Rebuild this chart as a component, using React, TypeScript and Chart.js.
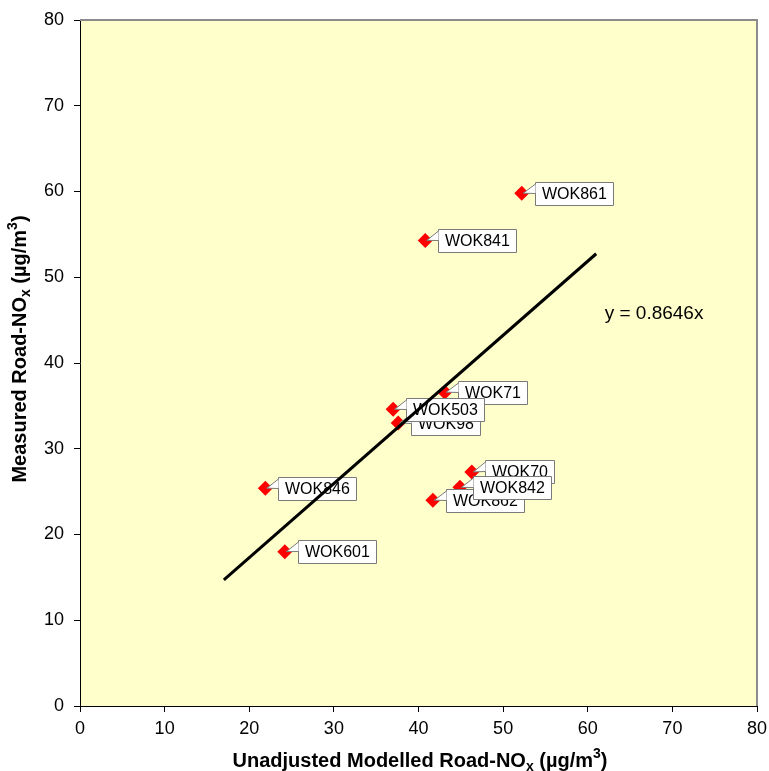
import React, { useEffect, useRef } from "react";
import { Chart, registerables } from "chart.js";

Chart.register(...registerables);

const siteNames = ["WOK861", "WOK841", "WOK71", "WOK98", "WOK503", "WOK70", "WOK862", "WOK842", "WOK846", "WOK601"];
const modelledX = [52.2, 40.8, 43.1, 37.6, 37.0, 46.3, 41.7, 44.9, 21.9, 24.2];
const measuredY = [59.8, 54.3, 36.6, 33.0, 34.6, 27.3, 24.0, 25.5, 25.4, 18.0];
const trendSlope = 0.8646;
const trendX = [17, 61];
const axisTicks = [0, 10, 20, 30, 40, 50, 60, 70, 80];
const equationText = "y = 0.8646x";

const FONT = "'Liberation Sans', Arial, sans-serif";

type Seg = { t: string; k: "n" | "sub" | "sup" };

function drawRich(ctx: CanvasRenderingContext2D, segs: Seg[], size: number) {
  const small = Math.round(size * 0.68);
  const fontFor = (k: string) => `bold ${k === "n" ? size : small}px ${FONT}`;
  let total = 0;
  for (const s of segs) {
    ctx.font = fontFor(s.k);
    total += ctx.measureText(s.t).width;
  }
  let x = -total / 2;
  ctx.textAlign = "left";
  ctx.textBaseline = "middle";
  for (const s of segs) {
    ctx.font = fontFor(s.k);
    const dy = s.k === "sub" ? size * 0.3 : s.k === "sup" ? -size * 0.33 : 0;
    ctx.fillText(s.t, x, dy);
    x += ctx.measureText(s.t).width;
  }
}

const decorPlugin = {
  id: "decor",
  beforeDraw(chart: any) {
    const { ctx, chartArea: a } = chart;
    ctx.save();
    ctx.fillStyle = "#FFFFCC";
    ctx.fillRect(a.left, a.top, a.right - a.left, a.bottom - a.top);
    ctx.restore();
  },
  afterDatasetDraw(chart: any, args: any) {
    if (args.index !== 1) return;
    const { ctx } = chart;
    const meta = chart.getDatasetMeta(1);
    ctx.save();
    ctx.font = `16px ${FONT}`;
    meta.data.forEach((pt: any, i: number) => {
      const px = pt.x;
      const py = pt.y;
      const label = siteNames[i];
      const tw = ctx.measureText(label).width;
      const left = Math.round(px + 13) + 0.5;
      const h = 23;
      const top = Math.round(py - h / 2) + 0.5;
      const w = Math.round(tw + 13);
      ctx.fillStyle = "#FFFFFF";
      ctx.strokeStyle = "#7A7A7A";
      ctx.lineWidth = 1;
      ctx.beginPath();
      ctx.rect(left, top, w, h);
      ctx.fill();
      ctx.stroke();
      // pointer
      ctx.beginPath();
      ctx.moveTo(left, top + 1.5);
      ctx.lineTo(px + 1.5, py);
      ctx.lineTo(left, top + 11);
      ctx.closePath();
      ctx.fill();
      ctx.beginPath();
      ctx.moveTo(left, top + 1.5);
      ctx.lineTo(px + 1.5, py);
      ctx.lineTo(left, top + 11);
      ctx.stroke();
      ctx.fillStyle = "#000000";
      ctx.textAlign = "left";
      ctx.textBaseline = "middle";
      ctx.fillText(label, left + 6.5, top + h / 2 + 0.5);
    });
    ctx.restore();
  },
  afterDraw(chart: any) {
    const { ctx, chartArea: a, scales } = chart;
    ctx.save();
    // top/right border
    ctx.strokeStyle = "#8C8C8C";
    ctx.lineWidth = 2;
    ctx.beginPath();
    ctx.moveTo(a.left, a.top);
    ctx.lineTo(a.right, a.top);
    ctx.lineTo(a.right, a.bottom);
    ctx.stroke();
    // equation
    ctx.fillStyle = "#000";
    ctx.font = `19px ${FONT}`;
    ctx.textAlign = "left";
    ctx.textBaseline = "middle";
    ctx.fillText(equationText, scales.x.getPixelForValue(62.0), scales.y.getPixelForValue(45.7));
    // x title
    ctx.save();
    ctx.translate(420, 761);
    drawRich(ctx, [
      { t: "Unadjusted Modelled Road-NO", k: "n" },
      { t: "x", k: "sub" },
      { t: " (\u00B5g/m", k: "n" },
      { t: "3", k: "sup" },
      { t: ")", k: "n" },
    ], 20);
    ctx.restore();
    // y title
    ctx.save();
    ctx.translate(20, 349);
    ctx.rotate(-Math.PI / 2);
    drawRich(ctx, [
      { t: "Measured Road-NO", k: "n" },
      { t: "x", k: "sub" },
      { t: " (\u00B5g/m", k: "n" },
      { t: "3", k: "sup" },
      { t: ")", k: "n" },
    ], 20);
    ctx.restore();
    ctx.restore();
  },
};

export default function App() {
  const ref = useRef<HTMLCanvasElement>(null);
  useEffect(() => {
    if (!ref.current) return;
    const points = modelledX.map((x, i) => ({ x, y: measuredY[i] }));
    const trend = trendX.map((x) => ({ x, y: x * trendSlope }));
    const tickCfg = {
      color: "#000",
      font: { family: FONT, size: 18 },
    };
    const chart = new Chart(ref.current, {
      type: "scatter",
      data: {
        datasets: [
          {
            type: "line",
            data: trend,
            borderColor: "#000",
            borderWidth: 3,
            pointRadius: 0,
            fill: false,
          } as any,
          {
            data: points,
            pointStyle: "rectRot",
            pointRadius: 7.5,
            backgroundColor: "#FF0000",
            borderColor: "#FF0000",
            borderWidth: 0,
          },
        ],
      },
      options: {
        animation: false,
        responsive: false,
        devicePixelRatio: 1,
        layout: { padding: { top: 20, right: 12, left: 0, bottom: 0 } },
        plugins: { legend: { display: false }, tooltip: { enabled: false } },
        scales: {
          x: {
            type: "linear",
            min: 0,
            max: 80,
            afterFit: (s: any) => { s.height = 65; s.paddingRight = 0; s.paddingLeft = 0; },
            afterBuildTicks: (s: any) => { s.ticks = axisTicks.map((v) => ({ value: v })); },
            ticks: { ...tickCfg, padding: 6 },
            grid: { display: true, drawOnChartArea: false, drawTicks: true, tickLength: 6, color: "#000" },
            border: { display: true, color: "#000", width: 1 },
          },
          y: {
            type: "linear",
            min: 0,
            max: 80,
            afterFit: (s: any) => { s.width = 80; s.paddingTop = 0; s.paddingBottom = 0; },
            afterBuildTicks: (s: any) => { s.ticks = axisTicks.map((v) => ({ value: v })); },
            ticks: { ...tickCfg, padding: 10 },
            grid: { display: true, drawOnChartArea: false, drawTicks: true, tickLength: 6, color: "#000" },
            border: { display: true, color: "#000", width: 1 },
          },
        },
      },
      plugins: [decorPlugin],
    });
    return () => chart.destroy();
  }, []);
  return (
    <div style={{ position: "absolute", left: 0, top: 0, width: 769, height: 771, background: "#fff" }}>
      <canvas ref={ref} width={769} height={771} style={{ display: "block" }} />
    </div>
  );
}
